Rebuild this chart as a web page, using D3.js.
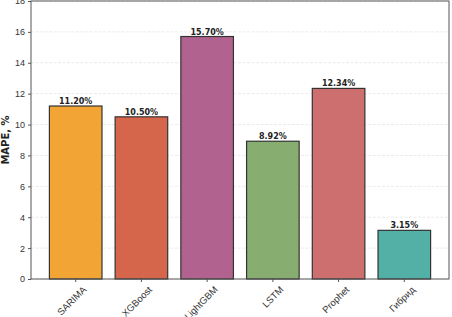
<!DOCTYPE html>
<html>
<head>
<meta charset="utf-8">
<script src="https://cdn.jsdelivr.net/npm/d3@7"></script>
<style>
body { margin: 0; background: #fff; }
svg { display: block; font-family: "DejaVu Sans", sans-serif; }
</style>
</head>
<body>
<div class="container"></div>
<script>
let width = 452
let height = 317
let margin = { left: 31, right: 3, top: 1, bottom: 38 }

const models = ['SARIMA', 'XGBoost', 'LightGBM', 'LSTM', 'Prophet', 'Гибрид']
const mape = [11.20, 10.50, 15.70, 8.92, 12.34, 3.15]
const colors = ['#F2A435', '#D6664B', '#B2628F', '#88AD70', '#CD6F6F', '#52B0A6']
const yTicks = [0, 2, 4, 6, 8, 10, 12, 14, 16, 18]

let svg = d3.select('.container')
    .append('svg')
    .attr('width', width)
    .attr('height', height)

let x = d3.scaleBand()
    .domain(models)
    .range([margin.left, width - margin.right])
    .paddingInner(0.2)
    .paddingOuter(0.28)

let y = d3.scaleLinear()
    .domain([0, 18])
    .range([height - margin.bottom, margin.top])

// grid
svg.append('g')
    .selectAll('line')
    .data(yTicks)
    .enter()
    .append('line')
    .attr('x1', margin.left)
    .attr('x2', width - margin.right)
    .attr('y1', d => y(d))
    .attr('y2', d => y(d))
    .attr('stroke', '#e6e6e6')
    .attr('stroke-width', 0.8)
    .attr('stroke-dasharray', '3,1.5')

svg.append('g')
    .selectAll('rect')
    .data(mape)
    .enter()
    .append('rect')
    .attr('x', (d, i) => x(models[i]))
    .attr('y', d => y(d))
    .attr('width', x.bandwidth())
    .attr('height', d => y(0) - y(d))
    .attr('fill', (d, i) => colors[i])
    .attr('stroke', '#333')
    .attr('stroke-width', 1.2)

svg.append('g')
    .selectAll('text')
    .data(mape)
    .enter()
    .append('text')
    .attr('x', (d, i) => x(models[i]) + x.bandwidth() / 2)
    .attr('y', d => y(d) - 2)
    .attr('text-anchor', 'middle')
    .attr('font-size', 8)
    .attr('font-weight', 'bold')
    .attr('fill', '#222')
    .text(d => d.toFixed(2) + '%')

// y axis
let yAxis = svg.append('g')
    .attr('transform', `translate(${margin.left},0)`)
    .call(d3.axisLeft(y).tickValues(yTicks).tickSize(3).tickPadding(3))
yAxis.select('.domain').remove()
yAxis.selectAll('text').attr('font-size', 9).attr('fill', '#333')
yAxis.selectAll('line').attr('stroke', '#555')

// x axis
let xAxis = svg.append('g')
    .attr('transform', `translate(0,${height - margin.bottom})`)
    .call(d3.axisBottom(x).tickSize(3).tickPadding(3))
xAxis.select('.domain').remove()
xAxis.selectAll('line').attr('stroke', '#555')
xAxis.selectAll('text')
    .attr('font-size', 9.5)
    .attr('fill', '#333')
    .attr('text-anchor', 'end')
    .attr('dy', '0.6em')
    .attr('transform', 'translate(3,3) rotate(-45)')

// frame
svg.append('rect')
    .attr('x', margin.left)
    .attr('y', margin.top)
    .attr('width', width - margin.left - margin.right)
    .attr('height', height - margin.top - margin.bottom)
    .attr('fill', 'none')
    .attr('stroke', '#555')
    .attr('stroke-width', 1)

svg.append('text')
    .attr('transform', `translate(9,${(margin.top + height - margin.bottom) / 2}) rotate(-90)`)
    .attr('text-anchor', 'middle')
    .attr('font-size', 10)
    .attr('font-weight', 'bold')
    .attr('fill', '#222')
    .text('MAPE, %')
</script>
</body>
</html>
